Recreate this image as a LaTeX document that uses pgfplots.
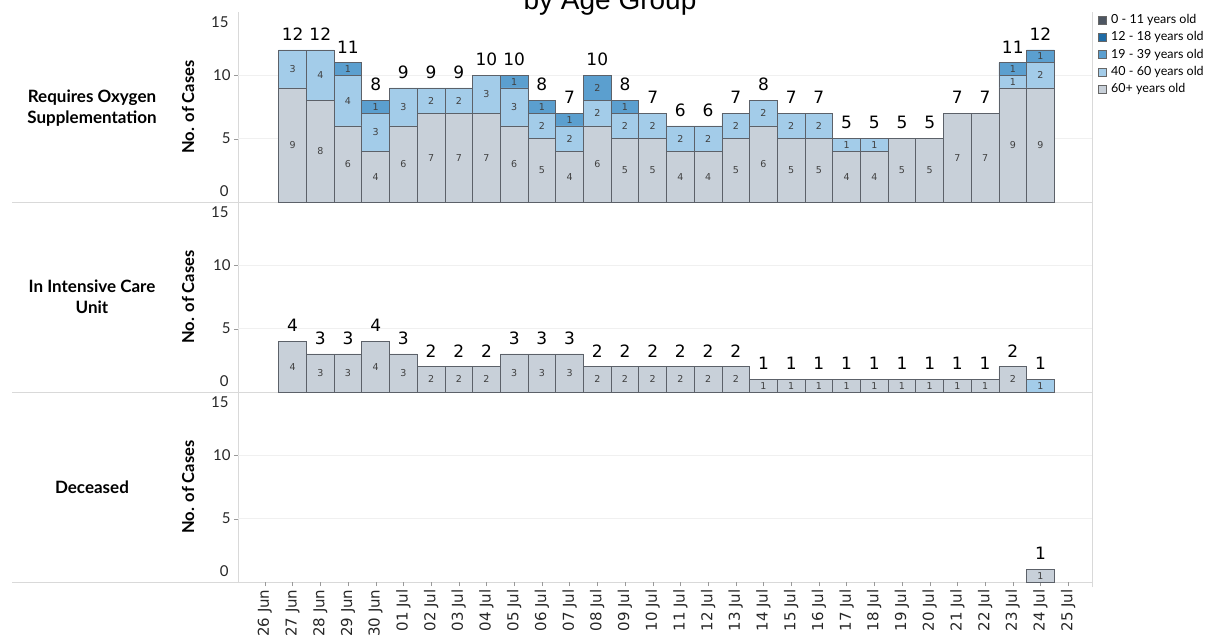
\documentclass[border=0pt]{standalone}
\usepackage{fontspec}
\setmainfont{Lato}
\newfontfamily\dejavu{DejaVu Sans}
\newfontfamily\libsans{Liberation Sans}
\usepackage{pgfplots}
\usepackage{pgfplotstable}
\pgfplotsset{compat=1.18}
\definecolor{c60}{HTML}{C8D0D9}
\definecolor{c4060}{HTML}{A3CCE9}
\definecolor{c1939}{HTML}{5B9FCF}
\definecolor{c1218}{HTML}{1F6BA5}
\definecolor{c011}{HTML}{4D5662}
\definecolor{barline}{HTML}{5C6169}
\definecolor{sep}{HTML}{D9D9D9}
\newcommand\dl[1]{{\dejavu\fontsize{15}{15}\selectfont #1}}

% x: 26 Jun = 0 ... 25 Jul = 29
\pgfplotstableread{
x a60 a4060 a1939 total
1 9 3 0 12
2 8 4 0 12
3 6 4 1 11
4 4 3 1 8
5 6 3 0 9
6 7 2 0 9
7 7 2 0 9
8 7 3 0 10
9 6 3 1 10
10 5 2 1 8
11 4 2 1 7
12 6 2 2 10
13 5 2 1 8
14 5 2 0 7
15 4 2 0 6
16 4 2 0 6
17 5 2 0 7
18 6 2 0 8
19 5 2 0 7
20 5 2 0 7
21 4 1 0 5
22 4 1 0 5
23 5 0 0 5
24 5 0 0 5
25 7 0 0 7
26 7 0 0 7
27 9 1 1 11
28 9 2 1 12
}\dataA

\pgfplotstableread{
x a60 a4060 total
1 4 0 4
2 3 0 3
3 3 0 3
4 4 0 4
5 3 0 3
6 2 0 2
7 2 0 2
8 2 0 2
9 3 0 3
10 3 0 3
11 3 0 3
12 2 0 2
13 2 0 2
14 2 0 2
15 2 0 2
16 2 0 2
17 2 0 2
18 1 0 1
19 1 0 1
20 1 0 1
21 1 0 1
22 1 0 1
23 1 0 1
24 1 0 1
25 1 0 1
26 1 0 1
27 2 0 2
28 0 1 1
}\dataB

\pgfplotstableread{
x a60 total
28 1 1
}\dataC

\tikzset{zl/.style={anchor=east, font=\fontsize{15}{15}\selectfont, text=black!85, xshift=-6pt}}

\pgfplotsset{
  geom/.style={anchor=south west, scale only axis, width=854pt, height=190pt,
    xmin=-0.97, xmax=29.86, ymin=0, ymax=15, clip=false},
  panel/.style={geom,
    ybar stacked, bar width=1,
    axis line style={draw=none},
    tick pos=left,
    ytick={5,10}, ymajorgrids, grid style={draw=black!6},
    tick align=outside, major tick length=4pt,
    ytick style={draw=black!40},
    yticklabel style={font=\fontsize{15}{15}\selectfont, text=black!85, /pgf/number format/assume math mode=true},
    xtick=\empty,
    ylabel={No. of Cases},
    every axis y label/.style={at={(axis description cs:0,0.5)}, xshift=-50pt, rotate=90, anchor=center,
      font=\bfseries\fontsize{16.5}{16.5}\selectfont},
  },
  ov/.style={geom, hide axis},
  seg/.style 2 args={fill=#1, draw=barline, line width=0.7pt, forget plot,
    point meta=\thisrow{#2},
    nodes near coords={\pgfmathfloatifflags{\pgfplotspointmeta}{0}{}{\pgfmathprintnumber{\pgfplotspointmeta}}},
    every node near coord/.append style={anchor=center, font=\dejavu\fontsize{9.5}{9.5}\selectfont,
      text=black!75, /pgf/number format/assume math mode=true}},
  tot/.style={draw=none, mark=none, forget plot,
    point meta=explicit,
    nodes near coords={\pgfmathprintnumber{\pgfplotspointmeta}},
    every node near coord/.append style={anchor=south, font=\dejavu\fontsize{17}{17}\selectfont,
      text=black, /pgf/number format/assume math mode=true, yshift=6pt}},
}

\begin{document}
\begin{tikzpicture}[x=1pt,y=1pt]
\useasboundingbox (0,0) rectangle (1215,635);

% frame / separators
\draw[sep, line width=0.8pt] (12,433) -- (1092,433);
\draw[sep, line width=0.8pt] (12,243) -- (1092,243);
\draw[sep, line width=0.8pt] (12,53) -- (1092,53);
\draw[sep, line width=0.8pt] (238,53) -- (238,623);
\draw[sep, line width=0.8pt] (1092,48) -- (1092,623);

% title (partly cut off at the top, as in the reference)
\node[font=\libsans\fontsize{28}{28}\selectfont, anchor=base] at (610,625) {by Age Group};

% Panel 1
\begin{axis}[panel, at={(238pt,433pt)}]
\addplot[seg={c60}{a60}] table[x=x,y=a60]{\dataA};
\addplot[seg={c4060}{a4060}] table[x=x,y=a4060]{\dataA};
\addplot[seg={c1939}{a1939}] table[x=x,y=a1939]{\dataA};
\node[zl, yshift=11pt] at (rel axis cs:0,0) {0};
\node[zl, yshift=-10pt] at (rel axis cs:0,1) {15};
\end{axis}
\begin{axis}[ov, at={(238pt,433pt)}]
\addplot[tot] table[x=x,y=total,meta=total]{\dataA};
\end{axis}

% Panel 2
\begin{axis}[panel, at={(238pt,243pt)}]
\addplot[seg={c60}{a60}] table[x=x,y=a60]{\dataB};
\addplot[seg={c4060}{a4060}] table[x=x,y=a4060]{\dataB};
\node[zl, yshift=11pt] at (rel axis cs:0,0) {0};
\node[zl, yshift=-10pt] at (rel axis cs:0,1) {15};
\end{axis}
\begin{axis}[ov, at={(238pt,243pt)}]
\addplot[tot] table[x=x,y=total,meta=total]{\dataB};
\end{axis}

% Panel 3
\begin{axis}[panel, at={(238pt,53pt)},
  xtick={0,...,29},
  xticklabels={\dl{26 Jun},\dl{27 Jun},\dl{28 Jun},\dl{29 Jun},\dl{30 Jun},\dl{01 Jul},\dl{02 Jul},\dl{03 Jul},\dl{04 Jul},\dl{05 Jul},\dl{06 Jul},\dl{07 Jul},\dl{08 Jul},\dl{09 Jul},\dl{10 Jul},\dl{11 Jul},\dl{12 Jul},\dl{13 Jul},\dl{14 Jul},\dl{15 Jul},\dl{16 Jul},\dl{17 Jul},\dl{18 Jul},\dl{19 Jul},\dl{20 Jul},\dl{21 Jul},\dl{22 Jul},\dl{23 Jul},\dl{24 Jul},\dl{25 Jul}},
  xtick style={draw=black!40},
  xticklabel style={rotate=90, anchor=east, text=black!85},
]
\addplot[seg={c60}{a60}] table[x=x,y=a60]{\dataC};
\node[zl, yshift=11pt] at (rel axis cs:0,0) {0};
\node[zl, yshift=-10pt] at (rel axis cs:0,1) {15};
\end{axis}
\begin{axis}[ov, at={(238pt,53pt)}]
\addplot[tot] table[x=x,y=total,meta=total]{\dataC};
\end{axis}

% row headers
\node[font=\bfseries\fontsize{17}{21}\selectfont, align=center] at (92,527) {Requires Oxygen\\Supplementation};
\node[font=\bfseries\fontsize{17}{21}\selectfont, align=center] at (92,338) {In Intensive Care\\Unit};
\node[font=\bfseries\fontsize{17}{21}\selectfont, align=center] at (92,148) {Deceased};

% legend
\foreach \c/\t [count=\i from 0] in {c011/0 - 11 years old, c1218/12 - 18 years old, c1939/19 - 39 years old, c4060/40 - 60 years old, c60/60+ years old}{
  \pgfmathsetmacro{\yy}{615-17.3*\i}
  \draw[fill=\c, draw=black!60, line width=0.6pt] (1098,\yy-4) rectangle (1106,\yy+4);
  \node[anchor=west, font=\fontsize{12.5}{12.5}\selectfont, inner sep=0pt] at (1111,\yy) {\t};
}
\end{tikzpicture}
\end{document}
